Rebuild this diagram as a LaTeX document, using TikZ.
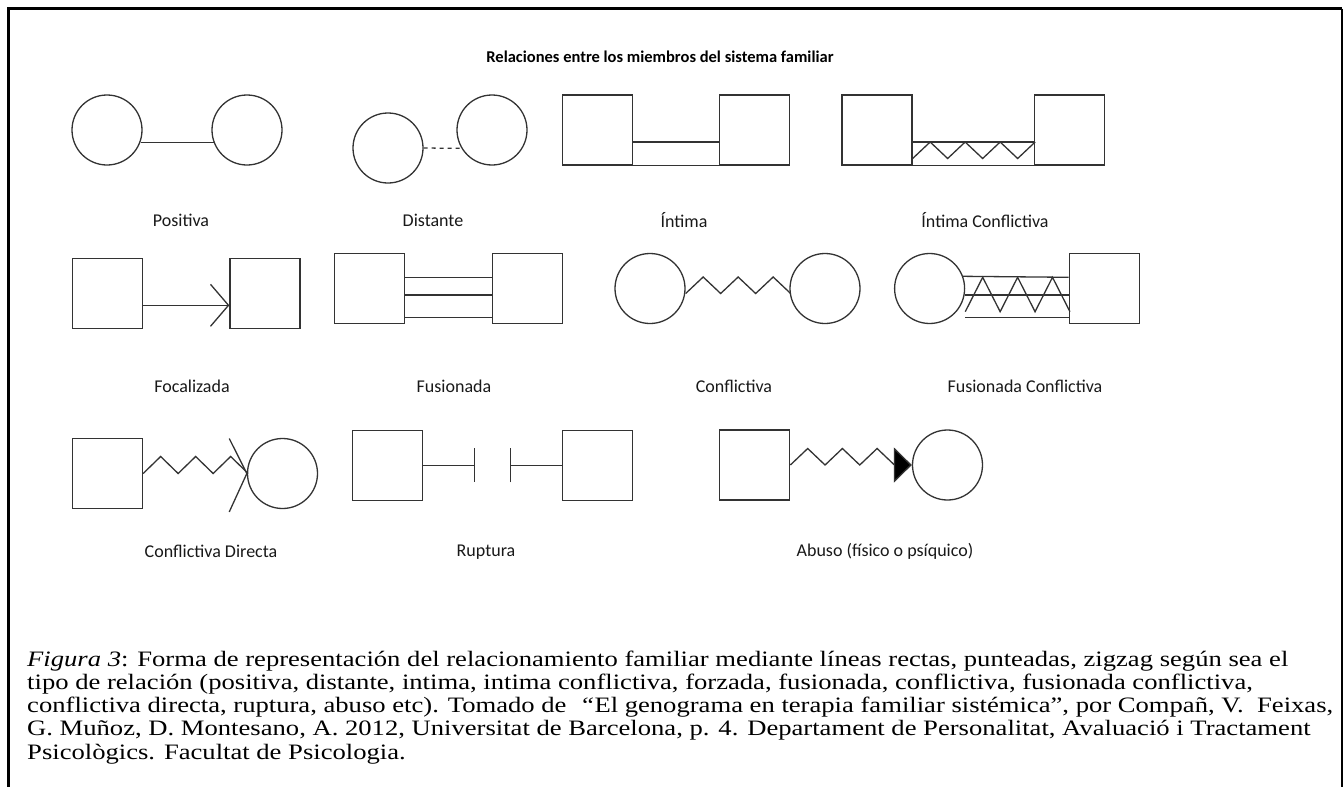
\documentclass[tikz,border=0pt]{standalone}
\usepackage{fontspec}
\setmainfont{Liberation Serif}
\newfontfamily\calib{Carlito}
\newfontfamily\piefont{Liberation Serif}[FakeStretch=1.21]
\usetikzlibrary{arrows.meta, positioning, calc}

\tikzset{
  mujer/.style={circle, draw=black!80, line width=1.3pt, minimum size=70pt, inner sep=0pt},
  hombre/.style={rectangle, draw=black!80, line width=1.3pt, minimum size=70pt, inner sep=0pt},
  rel/.style={draw=black!80, line width=1.3pt},
  etiq/.style={font=\calib\fontsize{18}{20}\selectfont, text=black!90},
}

\begin{document}
\begin{tikzpicture}[x=1pt, y=-1pt]
  \useasboundingbox (0,0) rectangle (1344,787);
  \fill[white] (0,0) rectangle (1344,787);
  \draw[line width=3.5pt] (8.5,787) -- (8.5,8.5) -- (1342,8.5);
  \draw[line width=2.5pt] (1342,8.5) -- (1342,787);

  \node[font=\calib\bfseries\fontsize{16.5}{19}\selectfont] (titulo) at (660,57) {Relaciones entre los miembros del sistema familiar};

  % fila 1
  \node[mujer] (pos1) at (107,130) {};
  \node[mujer] (pos2) at (247,130) {};
  \draw[rel] (pos1.-20) -- (pos2.200);
  \node[etiq] (lpos) at (181,220) {Positiva};

  \node[mujer] (dis1) at (388,148) {};
  \node[mujer] (dis2) at (492,130) {};
  \draw[rel, dash pattern=on 4pt off 4pt] (dis1.east) -- (dis2.211);
  \node[etiq] (ldis) at (433,220) {Distante};

  \node[hombre] (int1) at (597.5,130) {};
  \node[hombre] (int2) at (754.5,130) {};
  \draw[rel] ([yshift=-12pt]int1.east) -- ([yshift=-12pt]int2.west)
    (int1.south east) -- (int2.south west);
  \node[etiq] (lint) at (684,220) {Íntima};

  \node[hombre] (ic1) at (877,130) {};
  \node[hombre] (ic2) at (1069.5,130) {};
  \draw[rel] ([yshift=-12pt]ic1.east) -- ([yshift=-12pt]ic2.west)
    (ic1.south east) -- (ic2.south west);
  \draw[rel] ([yshift=-28.5pt]ic1.east) \foreach \k in {1,2,3} {-- ++(17.5,-16.5) -- ++(17.5,16.5)} -- ++(17.5,-16.5);
  \node[etiq] (lic) at (985,220) {Íntima Conflictiva};

  % fila 2
  \node[hombre] (foc1) at (107.5,293.3) {};
  \node[hombre] (foc2) at (265,293.3) {};
  \draw[rel, -{Straight Barb[length=18pt, width=42pt]}] ([yshift=-12pt]foc1.east) -- ([yshift=-12pt]foc2.west);
  \node[etiq] (lfoc) at (192,386) {Focalizada};

  \node[hombre] (fus1) at (369.7,288.7) {};
  \node[hombre] (fus2) at (527.7,288.7) {};
  \foreach \d in {11.4,-6.3,-29} {
    \draw[rel] ([yshift=\d pt]fus1.east) -- ([yshift=\d pt]fus2.west);
  }
  \node[etiq] (lfus) at (454,386) {Fusionada};

  \node[mujer] (con1) at (650,288.5) {};
  \node[mujer] (con2) at (825,288.5) {};
  \draw[rel] ([yshift=-5pt]con1.east) \foreach \k in {1,2,3} {-- ++(17.5,-16.5) -- ++(17.5,16.5)};
  \node[etiq] (lcon) at (734,386) {Conflictiva};

  \node[mujer] (fc1) at (929.6,288.5) {};
  \node[hombre] (fc2) at (1104.3,288.5) {};
  \draw[rel] (fc1.20) -- ([yshift=11.2pt]fc2.west);
  \draw[rel] ([yshift=-6.5pt]fc1.east) -- ([yshift=-6.5pt]fc2.west);
  \draw[rel] ([yshift=-29.2pt]fc1.east) -- ([yshift=-29.2pt]fc2.west);
  \draw[rel] ([yshift=-23.2pt]fc1.east) \foreach \k in {1,2,3} {-- ++(17.45,-34.4) -- ++(17.45,34.4)};
  \node[etiq] (lfc) at (1025,386) {Fusionada Conflictiva};

  % fila 3
  \node[hombre] (cd1) at (107.5,473.5) {};
  \node[mujer] (cd2) at (282.5,473.5) {};
  \draw[rel] (cd1.east) \foreach \k in {1,2,3} {-- ++(17.5,-17) -- ++(17.5,17)};
  \draw[rel] ([shift={(-17.6,-35)}]cd2.west) -- (cd2.west) -- ([shift={(-17.6,38.4)}]cd2.west);
  \node[etiq] (lcd) at (211,551.7) {Conflictiva Directa};

  \node[hombre] (rup1) at (387.3,465.3) {};
  \node[hombre] (rup2) at (597.8,465.3) {};
  \coordinate (corte1) at ([xshift=52pt]rup1.east);
  \coordinate (corte2) at ([xshift=-52.4pt]rup2.west);
  \draw[rel, -{Bar[width=34pt]}] (rup1.east) -- (corte1);
  \draw[rel, -{Bar[width=34pt]}] (rup2.west) -- (corte2);
  \node[etiq] (lrup) at (486,551.7) {Ruptura};

  \node[hombre] (ab1) at (754.7,465) {};
  \node[mujer] (ab2) at (947.5,465) {};
  \draw[rel, -{Triangle[length=18pt, width=35pt, fill=black]}] (ab1.east) \foreach \k in {1,2,3} {-- ++(17.35,-16.5) -- ++(17.35,16.5)} -- (ab2.west);
  \node[etiq] (lab) at (885,551.7) {Abuso (físico o psíquico)};

  % pie
  \node[anchor=north west, align=left, inner sep=0pt, font=\piefont\fontsize{22}{23.1}\selectfont] (pie) at (27,651)
    {\textit{Figura 3}: Forma de representación del relacionamiento familiar mediante líneas rectas, punteadas, zigzag según sea el\\
     tipo de relación (positiva, distante, intima, intima conflictiva, forzada, fusionada, conflictiva, fusionada conflictiva,\\
     conflictiva directa, ruptura, abuso etc). Tomado de \ \textit{“}El genograma en terapia familiar sistémica”, por Compañ, V.\ \ Feixas,\\
     G. Muñoz, D. Montesano, A. 2012, Universitat de Barcelona, p. 4. Departament de Personalitat, Avaluació i Tractament\\
     Psicològics. Facultat de Psicologia.};
\end{tikzpicture}
\end{document}
